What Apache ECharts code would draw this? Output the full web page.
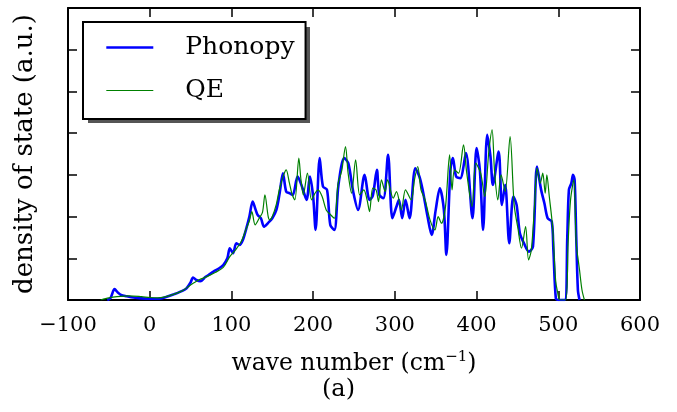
<!DOCTYPE html>
<html>
<head>
<meta charset="utf-8">
<script src="https://cdn.jsdelivr.net/npm/echarts@6/dist/echarts.min.js"></script>
<style>html,body{margin:0;padding:0;background:#fff}#c{width:677px;height:412px}</style>
</head>
<body>
<div id="c"></div>
<script>
// Phonopy DOS (wave number in cm^-1, density in tick units)
var phonopyX = [-52,-48,-43,-39,-35,-28,-20,-10,0,10,20,30,40,45,50,53,57,62,68,72,78,85,90,95,98,102,106,110,114,118,122,126,129,132,136,140,145,150,155,159,163,167,171,175,181,187,192,196,200,203,208,212,217,221,226,231,238,243,249,255,263,269,273,278,281,286,291.7,297,302,305,309,313,318,325,330,334,340,345,350,355,360,363,368,371,375,380,387,395,400,404,408,413,417,420,427,431,435,440,445,449,453,458,464,469,474,479,483,487,492,494,497,500,508,511,513,516,518,520,522,524,526];
var phonopyY = [0,0.05,0.26,0.18,0.12,0.09,0.06,0.04,0.03,0.03,0.07,0.14,0.22,0.28,0.42,0.54,0.48,0.45,0.55,0.6,0.68,0.76,0.84,1.0,1.24,1.12,1.36,1.32,1.44,1.7,2.0,2.36,2.2,2.04,1.96,1.76,1.85,1.96,2.16,2.56,3.04,2.6,2.56,2.52,2.96,2.68,2.4,2.96,2.48,1.68,3.4,2.72,2.64,1.8,1.68,2.76,3.4,3.28,2.6,2.16,3.0,2.4,2.5,3.12,2.52,2.44,3.48,1.96,2.24,2.4,1.96,2.4,1.96,3.16,2.96,2.64,2.0,1.56,2.16,2.68,2.16,1.08,3.12,3.4,2.96,2.92,3.52,1.96,3.64,3.12,1.68,3.96,3.44,2.76,3.56,2.28,2.76,1.36,2.48,2.28,1.6,1.36,1.16,1.28,3.2,2.64,2.32,1.96,1.88,1.2,0.04,0,0,1.5,2.64,2.8,3.0,2.88,1.5,0.24,0];
// QE DOS
var qeX = [-60,-50,-40,-25,-10,0,10,20,30,40,50,60,70,80,90,98,105,112,118,122,125,129,134,138,141,145,147,150,155,159,164,167,171,174,177.6,182.5,185,188,193,198,202,206,211,216,221,226,230.6,235,239.6,242.8,247,252,257,262,266,269,273,277,280,283.6,288,291,298,302,308,313,320,324,328,332,337,343,349,353,357,362,367,370,373,378,384,388,394.5,399,405,410,415,419,422,426,430,435,441,446,450.6,455,460,463.6,467,471,474,478,481,484,486,489,493,496.7,499,502,509,512,515,519,522,526,529,532];
var qeY = [0,0.05,0.08,0.1,0.08,0.06,0.05,0.08,0.14,0.22,0.36,0.48,0.56,0.66,0.78,1.04,1.2,1.4,1.7,1.9,2.12,1.8,1.96,2.1,2.52,2.0,1.92,2.0,2.3,2.68,3.0,3.12,2.8,2.55,2.4,3.4,2.9,2.52,3.04,2.4,2.55,2.64,2.48,2.16,2.05,1.96,2.8,3.1,3.68,3.04,2.56,3.36,2.52,2.64,2.4,2.12,2.68,2.64,2.36,2.88,2.6,2.88,2.44,2.6,2.16,2.64,2.4,2.88,3.2,2.64,2.4,1.92,1.68,2.0,1.84,2.24,3.48,2.64,3.12,3.04,3.72,3.04,2.24,3.28,3.04,2.48,3.56,4.08,3.08,2.4,3.0,2.6,3.92,2.28,1.72,1.24,1.76,0.96,1.2,2.28,3.16,2.8,3.04,2.56,3.0,2.48,1.76,0.48,0.2,0,0,1.36,2.4,2.88,1.36,0.72,0.24,0];
var xTicks = [-100,0,100,200,300,400,500,600];
var seriesNames = ['Phonopy','QE'];

function zip(xs, ys){ return xs.map(function(x,i){ return [x, ys[i]]; }); }
var FONT = 'DejaVu Serif';
var chart = echarts.init(document.getElementById('c'), null, {renderer:'canvas'});
var axisLine = {show:true, onZero:false, lineStyle:{color:'#000', width:2}};
var tick = {show:true, inside:true, length:9, lineStyle:{color:'#000', width:1.5}};
chart.setOption({
  animation:false,
  backgroundColor:'#fff',
  grid:{left:68, right:37, top:8, bottom:112, containLabel:false},
  xAxis:[{
    type:'value', min:xTicks[0], max:xTicks[xTicks.length-1], interval:100,
    axisLine:axisLine, axisTick:tick, splitLine:{show:false},
    axisLabel:{color:'#000', fontFamily:FONT, fontSize:21, margin:15,
      formatter:function(v){ return v<0 ? '\u2212'+Math.abs(v) : String(v); }},
    name:'wave number (cm{sup|\u22121})', nameLocation:'middle', nameGap:50,
    nameTextStyle:{color:'#000', fontFamily:FONT, fontSize:23.5,
      rich:{sup:{fontFamily:FONT, fontSize:15, verticalAlign:'top', padding:[0,0,12,0], color:'#000'}}}
  },{
    type:'value', position:'top', min:xTicks[0], max:xTicks[xTicks.length-1], interval:100,
    axisLine:axisLine, axisTick:tick, axisLabel:{show:false}, splitLine:{show:false}
  }],
  yAxis:[{
    type:'value', min:0, max:7, interval:1,
    axisLine:axisLine, axisTick:tick, axisLabel:{show:false}, splitLine:{show:false},
    name:'density of state (a.u.)', nameLocation:'middle', nameGap:30, nameRotate:90,
    nameTextStyle:{color:'#000', fontFamily:FONT, fontSize:26}
  },{
    type:'value', position:'right', min:0, max:7, interval:1,
    axisLine:axisLine, axisTick:tick, axisLabel:{show:false}, splitLine:{show:false}
  }],
  graphic:[{
    type:'rect', z:4, left:88, top:27, shape:{width:222, height:96},
    style:{fill:'#555'}
  }],
  legend:{
    orient:'vertical', left:83, top:22, z:10,
    data:[{name:seriesNames[0], lineStyle:{width:2.6}}, {name:seriesNames[1], lineStyle:{width:1.2}}],
    itemWidth:47, itemHeight:14, itemGap:18,
    padding:[13,11,16,22],
    itemStyle:{opacity:0, color:'rgba(0,0,0,0)', borderWidth:0},
    backgroundColor:'#fff', borderColor:'#000', borderWidth:2,
    textStyle:{color:'#000', fontFamily:FONT, fontSize:25, padding:[0,0,0,27]}
  },
  title:{text:'(a)', left:'center', top:373, textStyle:{color:'#000', fontFamily:FONT, fontSize:24, fontWeight:'normal'}},
  series:[{
    name:seriesNames[0], type:'line', data:zip(phonopyX, phonopyY), symbol:'none', smooth:0.3,
    lineStyle:{color:'#0000ff', width:2.6}, itemStyle:{color:'#0000ff'}, z:2
  },{
    name:seriesNames[1], type:'line', data:zip(qeX, qeY), symbol:'none', smooth:0.3,
    lineStyle:{color:'#008000', width:1.2}, itemStyle:{color:'#008000'}, z:3
  }]
});
</script>
</body>
</html>
